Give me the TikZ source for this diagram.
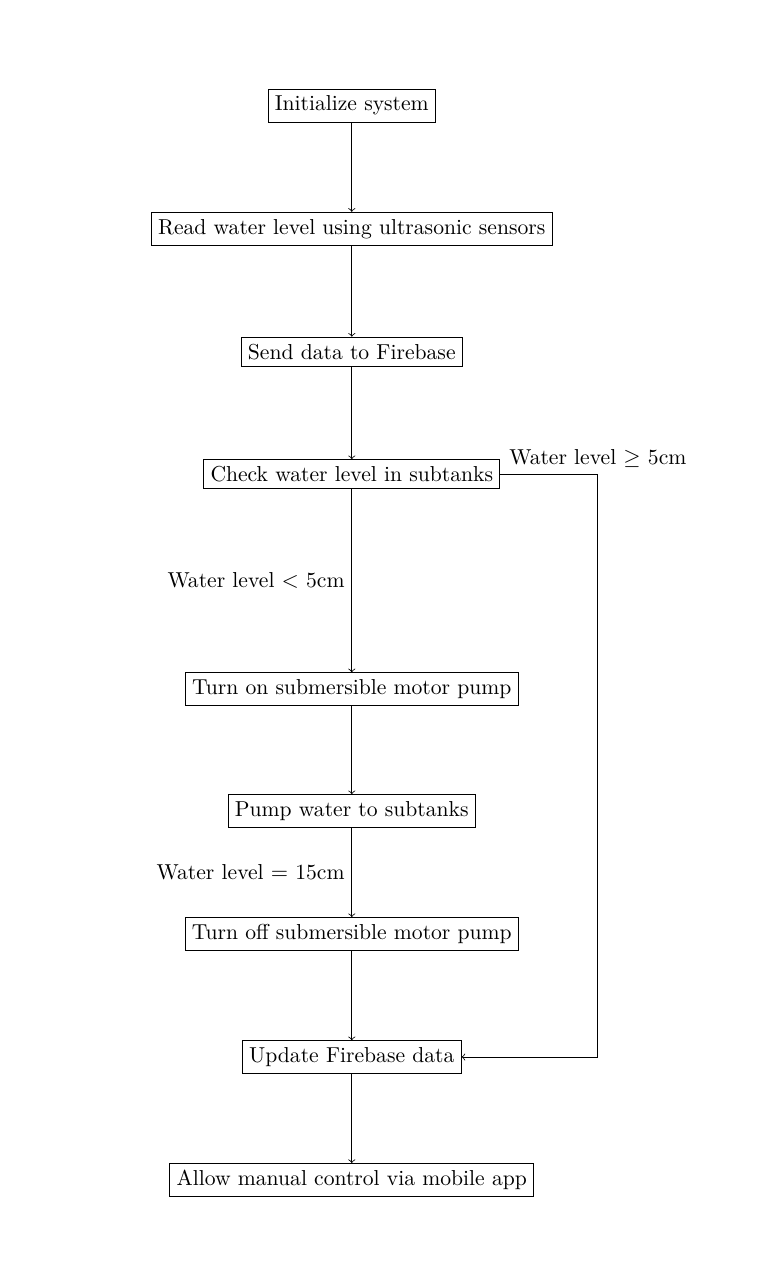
\documentclass[tikz,border=0pt]{standalone}
\usepackage{amssymb}

\tikzset{
	process/.style={draw=black, rectangle},
	flow/.style={->}
}

\begin{document}
\begin{tikzpicture}[font=\fontsize{10.65}{12.8}\selectfont]
		%page outline
		\useasboundingbox (0,0) rectangle (13.33,22.16);
		
		%steps
		\node[process] (init) at (6.09,20.33) {Initialize system};
		\node[process] (read) at (6.09,18.20) {Read water level using ultrasonic sensors};
		\node[process] (send) at (6.09,16.07) {Send data to Firebase};
		\node[process] (check) at (6.09,13.95) {Check water level in subtanks};
		\node[process] (pumpon) at (6.09,10.23) {Turn on submersible motor pump};
		\node[process] (pumpwater) at (6.09,8.12) {Pump water to subtanks};
		\node[process] (pumpoff) at (6.09,5.99) {Turn off submersible motor pump};
		\node[process] (update) at (6.09,3.86) {Update Firebase data};
		\node[process] (manual) at (6.09,1.73) {Allow manual control via mobile app};
		
		%main flow
		\draw[flow] (init) -- (read);
		\draw[flow] (read) -- (send);
		\draw[flow] (send) -- (check);
		\draw[flow] (check) -- node[midway, left] {Water level $<$ 5cm} (pumpon);
		\draw[flow] (pumpon) -- (pumpwater);
		\draw[flow] (pumpwater) -- node[midway, left] {Water level $=$ 15cm} (pumpoff);
		\draw[flow] (pumpoff) -- (update);
		\draw[flow] (update) -- (manual);
		
		%bypass
		\coordinate (corner) at (10.35,13.95);
		\draw[flow] (check.east) -- (corner) node[above] {Water level $\geq$ 5cm} |- (update.east);
		
		\end{tikzpicture}
\end{document}
